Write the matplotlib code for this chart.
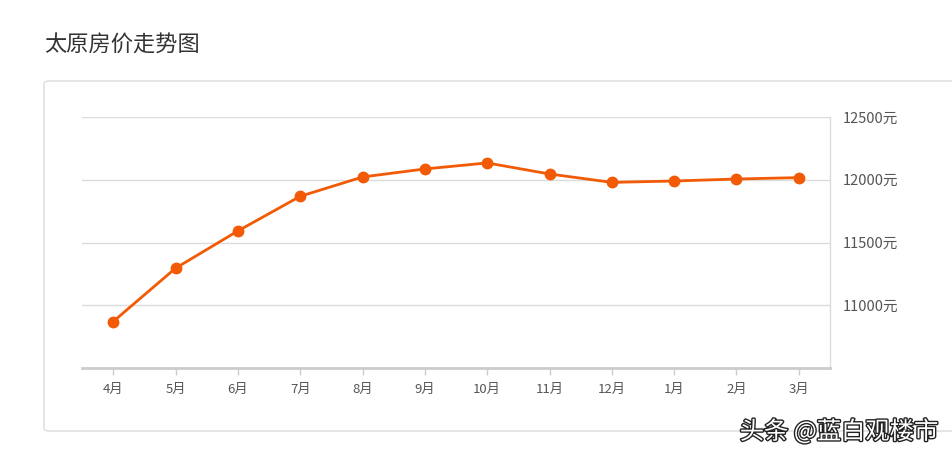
import matplotlib
matplotlib.use("Agg")
import matplotlib.pyplot as plt
from matplotlib.patches import FancyBboxPatch
import matplotlib.patheffects as pe

plt.rcParams['font.family'] = ['Noto Sans CJK SC', 'DejaVu Sans']

months = ['4月', '5月', '6月', '7月', '8月', '9月', '10月', '11月', '12月', '1月', '2月', '3月']
prices = [10870, 11295, 11592, 11868, 12022, 12086, 12134, 12046, 11979, 11990, 12006, 12017]
yticks = [11000, 11500, 12000, 12500]
ytick_labels = ['11000元', '11500元', '12000元', '12500元']
title = '太原房价走势图'
watermark = '头条 @蓝白观楼市'

W, H = 952, 457
fig = plt.figure(figsize=(W / 100, H / 100), dpi=100)
fig.patch.set_facecolor('white')

# card border
card = FancyBboxPatch((44 / W, 1 - 431 / H), (960 - 44) / W, (431 - 81) / H,
                      boxstyle="round,pad=0,rounding_size=0.006",
                      transform=fig.transFigure, facecolor='white',
                      edgecolor='#dcdcdc', linewidth=1.0, zorder=-5)
fig.patches.append(card)

fig.text(44 / W, 1 - 45 / H, title, fontsize=16, color='#333333',
         ha='left', va='center')

left, right, top, bottom = 82, 830, 117, 368
ax = fig.add_axes([left / W, 1 - bottom / H, (right - left) / W, (bottom - top) / H])
ax.set_zorder(2)
ax.set_facecolor('none')
x = list(range(len(months)))
ax.plot(x, prices, color='#F25A05', linewidth=2.0, marker='o', markersize=7.5,
        markerfacecolor='#F25A05', markeredgecolor='#F25A05', zorder=3, clip_on=False)
ax.set_xlim(-0.5, len(months) - 0.5)
ax.set_ylim(10500, 12500)

ax.yaxis.tick_right()
ax.set_yticks(yticks)
ax.set_yticklabels(ytick_labels)
ax.set_xticks(x)
ax.set_xticklabels(months)
ax.tick_params(axis='y', length=0, pad=9, labelsize=10.5, labelcolor='#555555')
ax.tick_params(axis='x', length=5, width=1, color='#cccccc', pad=6,
               labelsize=9.5, labelcolor='#555555')
for yv in yticks:
    ax.axhline(yv, color='#dcdcdc', linewidth=1.0, zorder=1)
ax.spines['left'].set_visible(False)
ax.spines['top'].set_visible(False)
ax.spines['right'].set_color('#dcdcdc')
ax.spines['right'].set_linewidth(1.0)
ax.spines['bottom'].set_color('#cccccc')
ax.spines['bottom'].set_linewidth(2.0)

fig.text(938 / W, 1 - 432 / H, watermark, fontsize=17.5, color='white',
         ha='right', va='center', zorder=10,
         path_effects=[pe.withStroke(linewidth=2.0, foreground='#222222')])

fig.savefig('out.png', dpi=100)
